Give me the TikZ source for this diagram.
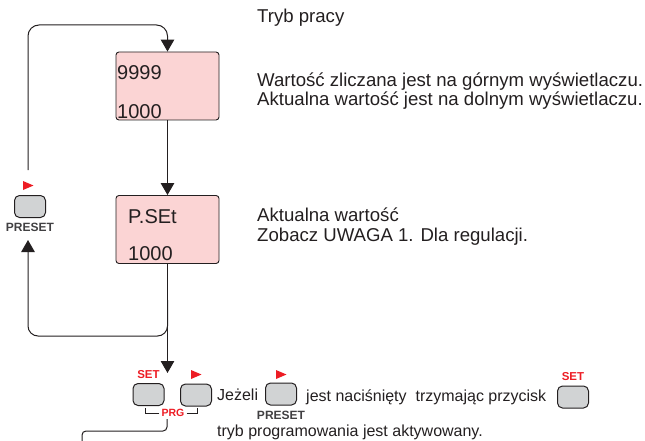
\documentclass[tikz,border=0pt]{standalone}
\usepackage{fontspec}
\setmainfont{Liberation Sans}
\usetikzlibrary{arrows.meta, positioning, calc}
\definecolor{cRed}{RGB}{237,28,36}
\definecolor{cPink}{RGB}{251,212,212}
\definecolor{cKey}{RGB}{209,211,212}
\definecolor{cLine}{RGB}{35,31,32}
\definecolor{cLabel}{RGB}{65,64,66}
\tikzset{
	display/.style={rectangle, rounded corners=3pt, draw=cLine, line width=0.9pt, fill=cPink, minimum width=103pt, minimum height=68pt, inner sep=0pt},
	digits/.style={anchor=base west, inner sep=0pt, font=\fontsize{20}{22}\selectfont, text=cLine},
	note/.style={anchor=base west, inner sep=0pt, font=\fontsize{18.6}{20}\selectfont, text=cLine},
	hint/.style={anchor=base west, inner sep=0pt, font=\fontsize{16}{18}\selectfont, text=cLine},
	key/.style={rectangle, rounded corners=5pt, draw=cLine, line width=1pt, fill=cKey, minimum width=31pt, minimum height=22pt, inner sep=0pt},
	keyname/.style={inner sep=0pt, font=\fontsize{12}{14}\selectfont\bfseries, text=cLabel},
	keyred/.style={inner sep=0pt, font=\fontsize{11.5}{13}\selectfont\bfseries, text=cRed},
	flow/.style={-{Triangle[length=12pt, width=13.5pt]}, line width=1pt, draw=cLine},
	wire/.style={line width=1pt, draw=cLine},
}
\begin{document}
\begin{tikzpicture}[x=1pt, y=-1pt]
	\useasboundingbox (0,0) rectangle (645,441);
	% displays
	\node[display] (disp1) at (167.5,86) {};
	\node[digits] (cnt) at (117,80) {9999};
	\node[digits] (act) at (117,119) {1000};
	\node[display] (disp2) at (167.5,229.5) {};
	\node[digits] (pset) at (128,223) {P.SEt};
	\node[digits] (pval) at (128,260) {1000};
	% notes on the right
	\node[note] (mode) at (257,23) {Tryb pracy};
	\node[note] (n1) at (257,87) {Wartość zliczana jest na górnym wyświetlaczu.};
	\node[note] (n2) at (257,106) {Aktualna wartość jest na dolnym wyświetlaczu.};
	\node[note] (n3) at (257,221) {Aktualna wartość};
	\node[note] (n4) at (257,241) {Zobacz UWAGA 1. Dla regulacji.};
	% keys
	\node[key] (kPre) at (30,206.5) {};
	\node[keyname, below=5pt of kPre] (lPre) {PRESET};
	\node[key] (kSet) at (148.5,394.5) {};
	\node[keyred, above=4.5pt of kSet] (lSet) {SET};
	\node[key] (kRight) at (196,395) {};
	\node[key] (kPre2) at (281,394) {};
	\node[keyname, below=5.5pt of kPre2] (lPre2) {PRESET};
	\node[key] (kSet2) at (573,397) {};
	\node[keyred, above=4.5pt of kSet2] (lSet2) {SET};
	\node[keyred, font=\fontsize{10.5}{12}\selectfont\bfseries] (prg) at (173,413) {PRG};
	% text of the key hint
	\node[hint] (h1) at (217,400) {Jeżeli};
	\node[hint] (h2) at (306,401) {jest naciśnięty\ \ trzymając przycisk};
	\node[hint] (h3) at (217,436) {tryb programowania jest aktywowany.};
	% red arrow marks
	\foreach \x/\y in {28/185.5, 196/374.5, 281/374.5}
		\fill[cRed] (\x-5,\y-4.5) -- (\x+5.5,\y) -- (\x-5,\y+4.5) -- cycle;
	% connectors
	\coordinate (presetOut) at (28,170);
	\coordinate (presetIn) at (28,240);
	\coordinate (branch) at (167.5,300);
	\coordinate (setIn) at (167.5,373);
	\coordinate (brL) at (145,408);
	\coordinate (brR) at (197,408);
	\coordinate (prgOut) at (167,419);
	\coordinate (progEnd) at (82,441);
	\draw[flow, rounded corners=11pt] (presetOut) |- (disp1.north |- 0,25) -- (disp1.north);
	\draw[flow] (disp1) -- (disp2);
	\draw[flow] (disp2) -- (setIn);
	\draw[flow, rounded corners=10pt] (branch) |- (presetIn |- 0,336) -- (presetIn);
	\draw[wire, line width=0.7pt] ([xshift=-2pt]prg.west) -| (brL);
	\draw[wire, line width=0.7pt] ([xshift=2pt]prg.east) -| (brR);
	\draw[wire, rounded corners=4pt] (prgOut) -- ++(0,12) -| (progEnd);
\end{tikzpicture}
\end{document}
